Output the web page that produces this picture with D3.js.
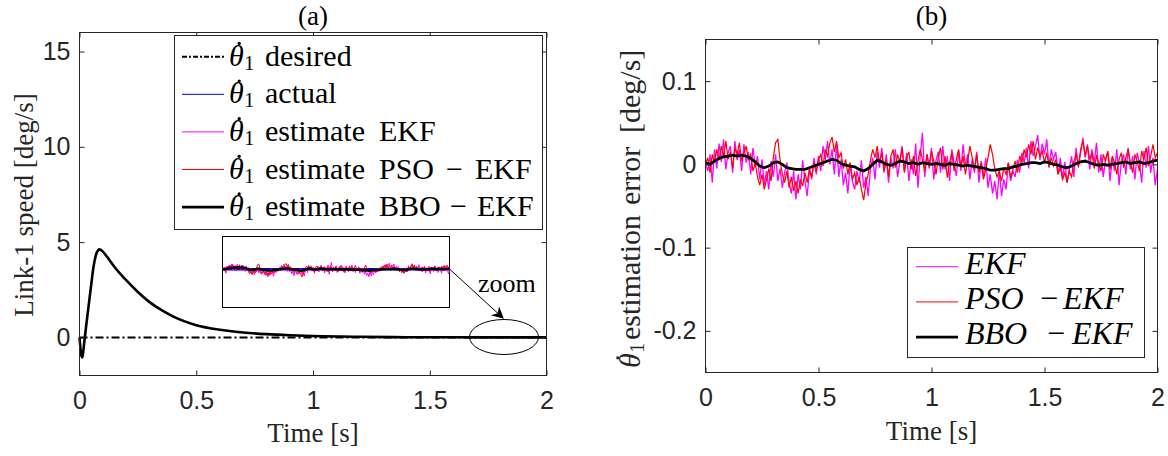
<!DOCTYPE html>
<html><head><meta charset="utf-8">
<script src="https://cdn.jsdelivr.net/npm/d3@7"></script>
<style>body{margin:0;background:#fff}svg{display:block}</style>
</head><body><svg id="c" width="1168" height="456"></svg>
<script>
// ---------- data ----------
// panel (a): link-1 speed transient [deg/s]
const speedTime = [0, 0.004, 0.008, 0.012, 0.016, 0.02, 0.03, 0.04, 0.05, 0.06, 0.07, 0.08, 0.085, 0.09, 0.1, 0.12, 0.15, 0.2, 0.25, 0.3, 0.35, 0.4, 0.5, 0.6, 0.7, 0.8, 0.9, 1.0, 1.2, 1.4, 1.6, 1.8, 2.0];
const speedActual = [0, -0.55, -0.95, -1.05, -0.75, -0.3, 0.75, 1.75, 2.75, 3.7, 4.3, 4.58, 4.62, 4.6, 4.5, 4.2, 3.69, 3.0, 2.38, 1.85, 1.44, 1.1, 0.64, 0.4, 0.26, 0.17, 0.11, 0.07, 0.03, 0.01, 0.005, 0.002, 0];
const desiredTime = [0, 2];
const desiredSpeed = [0, 0];

// panel (b): estimation error [deg/s], sampled every 0.01 s (EKF, PSO-EKF) and 0.02 s (BBO-EKF)
const errStepFast = 0.01;
const errStepBBO = 0.02;
const errEKF = [0.002,-0.008,0.012,-0.022,0.018,-0.005,0.025,0.003,0.030,-0.006,0.014,0.022,-0.010,0.028,0.005,0.018,-0.008,0.024,0.002,0.015,
-0.012,0.020,-0.004,0.010,-0.018,0.006,-0.025,-0.008,-0.030,0.004,-0.015,0.012,-0.020,-0.005,-0.028,-0.010,0.002,-0.022,-0.035,-0.008,
-0.042,-0.012,-0.030,0.005,-0.020,-0.038,-0.006,-0.018,0.008,-0.012,0.010,-0.008,0.022,0.005,0.028,0.000,0.018,-0.012,0.024,-0.015,
0.006,-0.025,-0.010,-0.035,0.002,-0.020,-0.030,-0.008,-0.022,0.005,-0.028,-0.015,-0.038,-0.005,0.008,-0.018,0.015,-0.004,0.020,-0.010,
0.012,-0.022,0.008,-0.005,0.018,-0.015,0.004,0.022,-0.008,0.014,-0.020,0.006,-0.012,0.025,-0.028,0.010,0.038,-0.015,0.012,-0.005,
0.020,-0.018,0.005,0.015,-0.010,0.022,-0.006,0.010,-0.020,0.018,0.002,-0.014,0.016,-0.008,0.024,-0.003,0.012,-0.018,0.006,-0.010,
0.015,-0.022,0.004,-0.015,0.008,-0.028,-0.012,-0.035,-0.020,-0.042,-0.008,-0.038,-0.018,-0.030,0.002,-0.020,-0.008,-0.015,0.005,-0.010,
0.014,0.002,0.020,-0.005,0.028,0.010,0.022,0.035,0.005,0.025,0.012,0.030,-0.002,0.018,0.006,0.015,-0.012,0.008,-0.018,0.003,
-0.022,-0.005,0.010,-0.015,0.020,-0.004,0.014,0.032,0.008,0.024,-0.006,0.018,0.002,0.026,-0.010,0.012,-0.015,0.006,0.015,-0.020,
0.008,-0.008,0.018,-0.025,0.004,0.012,-0.012,0.020,-0.006,0.010,-0.018,0.014,0.002,-0.022,0.016,-0.004,0.022,-0.010,0.008,-0.025,-0.005];
const errPSO = [0.000,0.008,-0.010,0.012,0.002,0.018,0.005,0.022,0.010,0.028,0.006,0.015,-0.005,0.020,0.012,0.026,0.004,0.014,0.022,0.006,
0.012,-0.008,0.002,-0.015,-0.025,-0.012,-0.030,-0.018,-0.005,-0.020,0.008,0.026,0.030,0.005,-0.012,-0.022,-0.008,-0.028,-0.015,-0.032,
-0.020,-0.035,-0.018,-0.026,-0.010,-0.022,-0.005,-0.015,0.002,-0.008,0.006,0.012,-0.002,0.018,0.010,0.025,0.033,0.015,0.028,0.008,
0.014,-0.005,0.006,-0.012,0.002,-0.018,-0.010,-0.025,-0.015,-0.030,-0.043,-0.022,-0.012,0.005,0.018,0.008,0.022,0.002,0.014,-0.008,
0.006,-0.015,0.010,0.018,-0.004,0.012,0.002,0.020,-0.010,0.008,0.015,-0.006,0.010,-0.014,0.004,0.018,0.006,-0.008,0.012,-0.002,
0.016,0.004,-0.012,0.008,0.020,-0.006,0.010,-0.016,0.002,0.014,-0.008,0.006,0.018,-0.004,0.010,-0.012,0.004,0.022,0.008,-0.006,
0.012,-0.010,0.002,-0.018,-0.006,0.008,0.024,0.012,-0.005,-0.015,-0.008,-0.020,-0.004,-0.012,0.002,-0.016,-0.006,0.004,-0.010,0.010,
0.002,0.018,0.008,0.024,0.012,0.028,0.006,0.020,0.010,0.016,0.002,0.014,-0.004,0.008,-0.002,0.006,-0.012,-0.004,-0.018,-0.010,
-0.022,-0.008,-0.015,0.004,0.012,-0.002,0.018,0.028,0.010,0.022,0.006,0.014,-0.005,0.010,0.002,-0.008,0.012,0.004,0.016,-0.006,
0.010,0.002,-0.012,0.006,0.014,-0.004,0.008,0.018,0.002,-0.010,0.012,0.004,-0.008,0.016,0.006,0.020,-0.002,0.010,0.024,0.008,0.014];
const errBBO = [0.002,0.000,0.004,0.007,0.009,0.010,0.011,0.010,0.011,0.010,0.007,0.003,-0.002,-0.004,-0.002,0.002,0.003,0.000,-0.004,-0.005,
-0.006,-0.006,-0.006,-0.004,-0.002,0.000,0.002,0.004,0.006,0.005,0.001,-0.001,-0.002,-0.003,-0.006,-0.008,-0.005,0.000,0.005,0.003,
0.000,-0.001,0.001,0.004,0.003,0.001,0.002,0.000,0.002,0.001,0.000,0.001,0.000,-0.001,0.001,0.000,-0.001,-0.002,-0.001,-0.002,
-0.003,-0.004,-0.005,-0.007,-0.007,-0.006,-0.005,-0.005,-0.003,-0.002,0.000,0.001,0.002,0.002,0.001,0.003,0.002,0.000,-0.001,-0.003,
-0.004,-0.002,0.001,0.003,0.004,0.002,0.000,-0.001,0.000,-0.001,0.000,0.001,0.002,0.003,0.001,0.002,0.003,0.001,0.002,0.004,0.005];

// ticks
const aXTicks = [0, 0.5, 1, 1.5, 2], aXLabels = ["0", "0.5", "1", "1.5", "2"];
const aYTicks = [0, 5, 10, 15], aYLabels = ["0", "5", "10", "15"];
const bXTicks = [0, 0.5, 1, 1.5, 2], bXLabels = ["0", "0.5", "1", "1.5", "2"];
const bYTicks = [-0.2, -0.1, 0, 0.1], bYLabels = ["-0.2", "-0.1", "0", "0.1"];

// legends
const legendA = ["desired", "actual", "estimate EKF", "estimate PSO − EKF", "estimate BBO − EKF"];
const legendB = ["EKF", "PSO − EKF", "BBO − EKF"];

// ---------- drawing ----------
const svg = d3.select("#c");
const SERIF = "'Liberation Serif','Times New Roman',serif";
const SANS = "'Liberation Sans',Arial,sans-serif";
const AX = "#262626";

function pts(xs, ys) { return ys.map((v, i) => [xs[i], v]); }
function stepPts(step, ys) { return ys.map((v, i) => [i * step, v]); }

function drawAxes(x, y, xT, xL, yT, yL) {
  const [x0, x1] = x.range(), [y0, y1] = y.range();
  const g = svg.append("g");
  g.append("g").attr("transform", `translate(0,${y0})`)
    .call(d3.axisBottom(x).tickValues(xT).tickFormat((d, i) => xL[i]).tickSizeInner(-5).tickSizeOuter(0).tickPadding(16));
  g.append("g").attr("transform", `translate(0,${y1})`)
    .call(d3.axisTop(x).tickValues(xT).tickFormat("").tickSizeInner(-5).tickSizeOuter(0));
  g.append("g").attr("transform", `translate(${x0},0)`)
    .call(d3.axisLeft(y).tickValues(yT).tickFormat((d, i) => yL[i]).tickSizeInner(-5).tickSizeOuter(0).tickPadding(9));
  g.append("g").attr("transform", `translate(${x1},0)`)
    .call(d3.axisRight(y).tickValues(yT).tickFormat("").tickSizeInner(-5).tickSizeOuter(0));
  g.selectAll(".domain").remove();
  g.selectAll(".tick line").attr("stroke", AX).attr("stroke-width", 1);
  g.selectAll(".tick text").attr("font-family", SANS).attr("font-size", 25).attr("fill", AX);
  g.append("rect").attr("x", x0).attr("y", y1).attr("width", x1 - x0).attr("height", y0 - y1)
    .attr("fill", "none").attr("stroke", AX).attr("stroke-width", 1);
}

// θ₁ text with the time-derivative dot drawn as a small accent mark above θ
function thetaLabel(parent, xPos, base, size, subSize, fill) {
  const col = fill || "#000";
  const t = parent.append("text").attr("x", xPos).attr("y", base).attr("font-family", SERIF)
    .attr("font-size", size).attr("fill", col);
  t.append("tspan").attr("font-style", "italic").text("θ");
  t.append("tspan").attr("font-size", subSize).attr("dx", "0.02em").attr("dy", 4).text("1");
  parent.append("circle").attr("cx", xPos + size * 0.34).attr("cy", base - size * 0.74)
    .attr("r", size * 0.055).attr("fill", col);
  return t;
}

// ===== Panel (a) =====
const xa = d3.scaleLinear().domain([0, 2]).range([79.5, 546.5]);
const ya = d3.scaleLinear().domain([-2, 16]).range([375.5, 32.5]);
const lineA = d3.line().x(d => xa(d[0])).y(d => ya(d[1]));
const lineAS = d3.line().x(d => xa(d[0])).y(d => ya(d[1])).curve(d3.curveMonotoneX);

svg.append("path").attr("d", lineA(pts(desiredTime, desiredSpeed))).attr("fill", "none")
  .attr("stroke", "#000").attr("stroke-width", 2).attr("stroke-dasharray", "8,3,2,3");
const sp = pts(speedTime, speedActual);
svg.append("path").attr("d", lineAS(sp)).attr("fill", "none").attr("stroke", "#0000ff").attr("stroke-width", 1);
svg.append("path").attr("d", lineAS(sp)).attr("fill", "none").attr("stroke", "#ff00ff").attr("stroke-width", 1);
svg.append("path").attr("d", lineAS(sp)).attr("fill", "none").attr("stroke", "#ff0000").attr("stroke-width", 1);
svg.append("path").attr("d", lineAS(sp)).attr("fill", "none").attr("stroke", "#000").attr("stroke-width", 2.6);

drawAxes(xa, ya, aXTicks, aXLabels, aYTicks, aYLabels);

// inset (zoomed view of steady state)
const xi = d3.scaleLinear().domain([0, 2]).range([222.5, 449.5]);
const yi = d3.scaleLinear().domain([-0.215, 0.185]).range([307.5, 236.5]);
const lineI = d3.line().x(d => xi(d[0])).y(d => yi(d[1]));
svg.append("rect").attr("x", 222.5).attr("y", 236.5).attr("width", 227).attr("height", 71)
  .attr("fill", "#fff").attr("stroke", "#000").attr("stroke-width", 1);
svg.append("path").attr("d", lineI(pts(desiredTime, desiredSpeed))).attr("fill", "none").attr("stroke", "#0000ff").attr("stroke-width", 2.5);
svg.append("path").attr("d", lineI(stepPts(errStepFast, errEKF))).attr("fill", "none").attr("stroke", "#ff00ff").attr("stroke-width", 1);
svg.append("path").attr("d", lineI(stepPts(errStepFast, errPSO))).attr("fill", "none").attr("stroke", "#ff0000").attr("stroke-width", 1);
svg.append("path").attr("d", lineI(stepPts(errStepBBO, errBBO))).attr("fill", "none").attr("stroke", "#000").attr("stroke-width", 2.5);

// arrow + ellipse + zoom label
const defs = svg.append("defs");
defs.append("marker").attr("id", "ah").attr("viewBox", "0 0 10 10").attr("refX", 9).attr("refY", 5)
  .attr("markerWidth", 12).attr("markerHeight", 12).attr("markerUnits", "userSpaceOnUse").attr("orient", "auto")
  .append("path").attr("d", "M0,0 L10,5 L0,10 L3,5 Z").attr("fill", "#000");
svg.append("line").attr("x1", 449.5).attr("y1", 269).attr("x2", 503).attr("y2", 318)
  .attr("stroke", "#000").attr("stroke-width", 1).attr("marker-end", "url(#ah)");
svg.append("ellipse").attr("cx", 504).attr("cy", 337).attr("rx", 34.5).attr("ry", 17.5)
  .attr("fill", "none").attr("stroke", "#000").attr("stroke-width", 1);
svg.append("text").attr("x", 478).attr("y", 292).attr("font-family", SERIF).attr("font-size", 26).attr("fill", "#000").text("zoom");

// legend (a)
const lgA = svg.append("g");
lgA.append("rect").attr("x", 174.5).attr("y", 35.5).attr("width", 368).attr("height", 194)
  .attr("fill", "#fff").attr("stroke", AX).attr("stroke-width", 1);
const styleA = [
  {c: "#000", w: 2, dash: "5,2,2,2"}, {c: "#0000ff", w: 1}, {c: "#ff00ff", w: 1}, {c: "#ff0000", w: 1}, {c: "#000", w: 2.6}
];
const tokA = [
  [["desired", 265]],
  [["actual", 265]],
  [["estimate", 265], ["EKF", 379]],
  [["estimate", 265], ["PSO", 379], ["−", 446], ["EKF", 475]],
  [["estimate", 265], ["BBO", 379], ["−", 450], ["EKF", 477]]
];
legendA.forEach((lab, i) => {
  const cy = 56.7 + i * 37.6;
  const s = styleA[i];
  const ln = lgA.append("line").attr("x1", 182).attr("x2", 224).attr("y1", cy).attr("y2", cy)
    .attr("stroke", s.c).attr("stroke-width", s.w);
  if (s.dash) ln.attr("stroke-dasharray", s.dash);
  const base = cy + 9;
  const t = thetaLabel(lgA, 229, base, 30, 20);
  tokA[i].forEach(([w, xp], k) => t.append("tspan").attr("x", xp).attr("dy", k === 0 ? -4 : 0).text(w));
});

// labels (a)
svg.append("text").attr("x", 313).attr("y", 25).attr("text-anchor", "middle").attr("font-family", SERIF)
  .attr("font-size", 27).attr("fill", "#000").text("(a)");
svg.append("text").attr("x", 313).attr("y", 442).attr("text-anchor", "middle").attr("font-family", SERIF)
  .attr("font-size", 27).attr("fill", AX).text("Time [s]");
svg.append("text").attr("transform", "translate(33,205) rotate(-90)").attr("text-anchor", "middle")
  .attr("font-family", SERIF).attr("font-size", 27).attr("fill", AX).text("Link-1 speed [deg/s]");

// ===== Panel (b) =====
const xb = d3.scaleLinear().domain([0, 2]).range([705.5, 1157.5]);
const yb = d3.scaleLinear().domain([-0.25, 0.15]).range([372.5, 39.5]);
const lineB = d3.line().x(d => xb(d[0])).y(d => yb(d[1]));
svg.append("path").attr("d", lineB(stepPts(errStepFast, errEKF))).attr("fill", "none").attr("stroke", "#ff00ff").attr("stroke-width", 1.3);
svg.append("path").attr("d", lineB(stepPts(errStepFast, errPSO))).attr("fill", "none").attr("stroke", "#ff0000").attr("stroke-width", 1.2);
svg.append("path").attr("d", lineB(stepPts(errStepBBO, errBBO))).attr("fill", "none").attr("stroke", "#000").attr("stroke-width", 2.8);

drawAxes(xb, yb, bXTicks, bXLabels, bYTicks, bYLabels);

// legend (b)
const lgB = svg.append("g");
lgB.append("rect").attr("x", 907.5).attr("y", 247.5).attr("width", 237).attr("height", 110)
  .attr("fill", "#fff").attr("stroke", AX).attr("stroke-width", 1);
const styleB = [{c: "#ff00ff", w: 1}, {c: "#ff0000", w: 1}, {c: "#000", w: 2.6}];
const tokB = [
  [["EKF", 965]],
  [["PSO", 965], ["−", 1040], ["EKF", 1063]],
  [["BBO", 965], ["−", 1047], ["EKF", 1072]]
];
legendB.forEach((lab, i) => {
  const cy = 266.7 + i * 35.2;
  const s = styleB[i];
  lgB.append("line").attr("x1", 916).attr("x2", 958).attr("y1", cy).attr("y2", cy).attr("stroke", s.c).attr("stroke-width", s.w);
  const t = lgB.append("text").attr("y", cy + 7).attr("font-family", SERIF)
    .attr("font-size", 32).attr("fill", "#000");
  tokB[i].forEach(([w, xp]) => t.append("tspan").attr("x", xp).attr("font-style", w === "−" ? "normal" : "italic").text(w));
});

// labels (b)
svg.append("text").attr("x", 931.5).attr("y", 25).attr("text-anchor", "middle").attr("font-family", SERIF)
  .attr("font-size", 27).attr("fill", "#000").text("(b)");
svg.append("text").attr("x", 931.5).attr("y", 440).attr("text-anchor", "middle").attr("font-family", SERIF)
  .attr("font-size", 27).attr("fill", AX).text("Time [s]");
const yLab = svg.append("g").attr("transform", "translate(630,205) rotate(-90)");
const yt = thetaLabel(yLab, -163, 10, 30, 20, AX);
yt.append("tspan").attr("x", -135).attr("dy", -4).text("estimation");
yt.append("tspan").attr("x", 0).text("error");
yt.append("tspan").attr("x", 72).text("[deg/s]");
</script></body></html>
